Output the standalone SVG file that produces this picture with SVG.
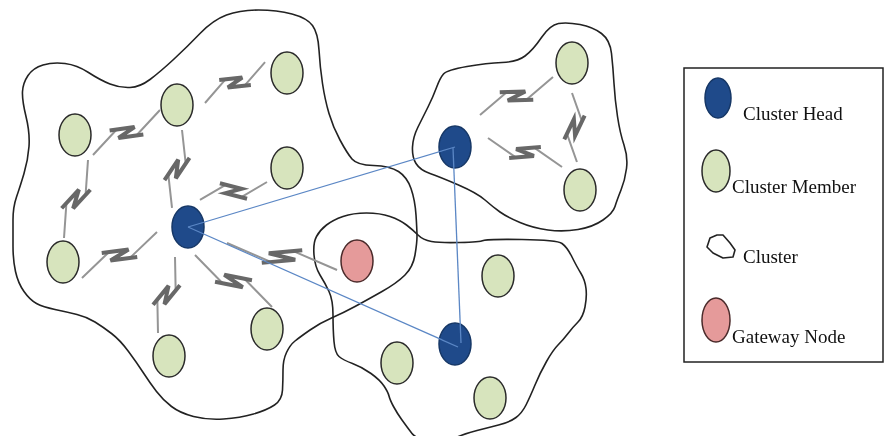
<svg xmlns="http://www.w3.org/2000/svg" xmlns:xlink="http://www.w3.org/1999/xlink" width="886" height="436" viewBox="0 0 886 436">
<style>
.cl{fill:none;stroke:#222;stroke-width:1.6;stroke-linejoin:round}
.mem{fill:#d7e4bd;stroke:#2a2a2a;stroke-width:1.5}
.head{fill:#1f4a8a;stroke:#163766;stroke-width:1.5}
.gw{fill:#e59a9a;stroke:#4a2a2a;stroke-width:1.5}
.link{stroke:#5b87c5;stroke-width:1.3;fill:none}
.bthin{fill:none;stroke:#959595;stroke-width:2;vector-effect:non-scaling-stroke}
.bz{fill:none;stroke:#686868;stroke-width:4;stroke-linejoin:miter;vector-effect:non-scaling-stroke}
.lg{font-family:"Liberation Serif","Times New Roman",serif;font-size:19px;fill:#111}
</style>
<defs>
<filter id="soft" x="-10%" y="-10%" width="120%" height="120%"><feGaussianBlur stdDeviation="0.7"/></filter>
<g id="bolt">
<path class="bthin" d="M0,0 L42,-8 M58,8 L100,0"/>
<path class="bz" d="M34,-11 L62,0 L38,0 L66,11"/>
</g>
</defs>
<rect width="886" height="436" fill="#fff"/>

<g id="clusters">
<path id="cluster1" class="cl" d="M22.5,91.5 Q23,83 28,75.5 Q33,68 43,65 Q53,62 65,63.5 Q77,65 88.5,72.5 Q100,80 110,84 Q120,88 130,87.5 Q140,87 150,79.5 Q160,72 173.5,59.5 Q187,47 200,33.5 Q213,20 226.5,15 Q240,10 258.5,10 Q277,10 292,14 Q307,18 312.5,25.5 Q318,33 319,50 Q320,67 322.5,83.5 Q325,100 329,113.5 Q333,127 340,140 Q347,153 352,159 Q357,165 373.5,165.5 Q390,166 398.5,171.5 Q407,177 411,188.5 Q415,200 416,215 Q417,230 417,236.5 Q417,243 415,255 Q413,267 405,275 Q397,283 382,291.5 Q367,300 355,306.5 Q343,313 331.5,318 Q320,323 310,330 Q300,337 295,341 Q290,345 286.5,352.5 Q283,360 283,370 Q283,380 282.5,390 Q282,400 274.5,405 Q267,410 253.5,414 Q240,418 223.5,419 Q207,420 193.5,416.5 Q180,413 171.5,406.5 Q163,400 156.5,391.5 Q150,383 143.5,373 Q137,363 128.5,351.5 Q120,340 111.5,333.5 Q103,327 95,322 Q87,317 77,314.5 Q67,312 55,309.5 Q43,307 36.5,303.5 Q30,300 24,291.5 Q18,283 15.5,271.5 Q13,260 13,246.5 Q13,233 13,220 Q13,207 16.5,197 Q20,187 24,173.5 Q28,160 29,146.5 Q30,133 26,116.5 Q22,100 22.5,91.5 Z"/>
<path id="cluster2" class="cl" d="M436.5,87.5 Q440,78 443.5,74 Q447,70 467,66.5 Q487,63 502,62.5 Q517,62 525,56 Q533,50 541.5,37.5 Q550,25 558.5,23.5 Q567,22 580,24.5 Q593,27 601.5,33.5 Q610,40 611.5,53.5 Q613,67 614,83.5 Q615,100 617.5,116.5 Q620,133 624,145 Q628,157 626.5,168.5 Q625,180 621,190 Q617,200 615,206.5 Q613,213 603,220 Q593,227 578,229.5 Q563,232 548,230 Q533,228 520,222.5 Q507,217 500,212 Q493,207 485,200 Q477,193 458.5,185 Q440,177 430,173.5 Q420,170 416,163.5 Q412,157 412.5,147 Q413,137 418,127 Q423,117 428,107 Q433,97 436.5,87.5 Z"/>
<path id="cluster3" class="cl" d="M314,255 Q313,243 316.5,236.5 Q320,230 326.5,225 Q333,220 343,216.5 Q353,213 366.5,213 Q380,213 390,216.5 Q400,220 406.5,225 Q413,230 418,235 Q423,240 431.5,241.5 Q440,243 460,242.5 Q480,242 483.5,240.5 Q487,239 522,239.5 Q557,240 562,243.5 Q567,247 572,257 Q577,267 581,273.5 Q585,280 586,288.5 Q587,297 585,307 Q583,317 578,322 Q573,327 568,333.5 Q563,340 558,345 Q553,350 546.5,361.5 Q540,373 535,385 Q530,397 526,405 Q522,413 516,417.5 Q510,422 498.5,425 Q487,428 477,430.5 Q467,433 458.5,436.5 Q450,440 433.5,440 Q417,440 412,433.5 Q407,427 402,420 Q397,413 393.5,406.5 Q390,400 389,396 Q388,392 384,386 Q380,380 371,373.5 Q362,367 352.5,363.5 Q343,360 339,356.5 Q335,353 334,341.5 Q333,330 333,315 Q333,300 329,291.5 Q325,283 320,275 Q315,267 314,255 Z"/>
</g>

<g id="m1"><ellipse class="mem" cx="75" cy="135" rx="16" ry="21"/></g>
<g id="m2"><ellipse class="mem" cx="177" cy="105" rx="16" ry="21"/></g>
<g id="m3"><ellipse class="mem" cx="287" cy="73" rx="16" ry="21"/></g>
<g id="m4"><ellipse class="mem" cx="287" cy="168" rx="16" ry="21"/></g>
<g id="m5"><ellipse class="mem" cx="63" cy="262" rx="16" ry="21"/></g>
<g id="m6"><ellipse class="mem" cx="169" cy="356" rx="16" ry="21"/></g>
<g id="m7"><ellipse class="mem" cx="267" cy="329" rx="16" ry="21"/></g>
<g id="m8"><ellipse class="mem" cx="397" cy="363" rx="16" ry="21"/></g>
<g id="m9"><ellipse class="mem" cx="498" cy="276" rx="16" ry="21"/></g>
<g id="m10"><ellipse class="mem" cx="490" cy="398" rx="16" ry="21"/></g>
<g id="m11"><ellipse class="mem" cx="572" cy="63" rx="16" ry="21"/></g>
<g id="m12"><ellipse class="mem" cx="580" cy="190" rx="16" ry="21"/></g>
<g id="h1"><ellipse class="head" cx="188" cy="227" rx="16" ry="21"/></g>
<g id="h2"><ellipse class="head" cx="455" cy="147" rx="16" ry="21"/></g>
<g id="h3"><ellipse class="head" cx="455" cy="344" rx="16" ry="21"/></g>
<g id="gateway"><ellipse class="gw" cx="357" cy="261" rx="16" ry="21"/></g>

<g id="connectors">
<g filter="url(#soft)">
<use xlink:href="#bolt" transform="translate(93,155) rotate(-33.9) scale(0.807,1)"/>
<use xlink:href="#bolt" transform="translate(205,103) rotate(-34.3) scale(0.727,1)"/>
<use xlink:href="#bolt" transform="translate(88,160) rotate(107.1) scale(0.816,1)"/>
<use xlink:href="#bolt" transform="translate(182,130) rotate(97.3) scale(0.786,1)"/>
<use xlink:href="#bolt" transform="translate(267,182) rotate(165) scale(0.694,1)"/>
<use xlink:href="#bolt" transform="translate(157,232) rotate(148.5) scale(0.88,1)"/>
<use xlink:href="#bolt" transform="translate(175,257) rotate(102.6) scale(0.779,1)"/>
<use xlink:href="#bolt" transform="translate(195,255) rotate(34) scale(0.929,-1)"/>
<use xlink:href="#bolt" transform="translate(227,243) rotate(13.8) scale(1.133,-1)"/>
<use xlink:href="#bolt" transform="translate(480,115) rotate(-27.5) scale(0.823,1)"/>
<use xlink:href="#bolt" transform="translate(488,138) rotate(21.4) scale(0.795,-1)"/>
<use xlink:href="#bolt" transform="translate(572,93) rotate(85.9) scale(0.692,1)"/>
</g>
<line class="link" x1="188" y1="227" x2="455" y2="147"/>
<line class="link" x1="188" y1="227" x2="458" y2="347"/>
<line class="link" x1="453" y1="148" x2="461" y2="343"/>
</g>

<g id="legend">
<rect x="684" y="68" width="199" height="294" fill="none" stroke="#222" stroke-width="1.5"/>
<ellipse class="head" cx="718" cy="98" rx="13" ry="20"/>
<text class="lg" x="743" y="120">Cluster Head</text>
<ellipse class="mem" cx="716" cy="171" rx="14" ry="21"/>
<text class="lg" x="732" y="193">Cluster Member</text>
<path class="cl" d="M707,247 L710,238 L717,235 L723,235 L730,243 L735,250 L733,257 L723,258 L713,253 Z"/>
<text class="lg" x="743" y="263">Cluster</text>
<ellipse class="gw" cx="716" cy="320" rx="14" ry="22"/>
<text class="lg" x="732" y="343">Gateway Node</text>
</g>
</svg>
